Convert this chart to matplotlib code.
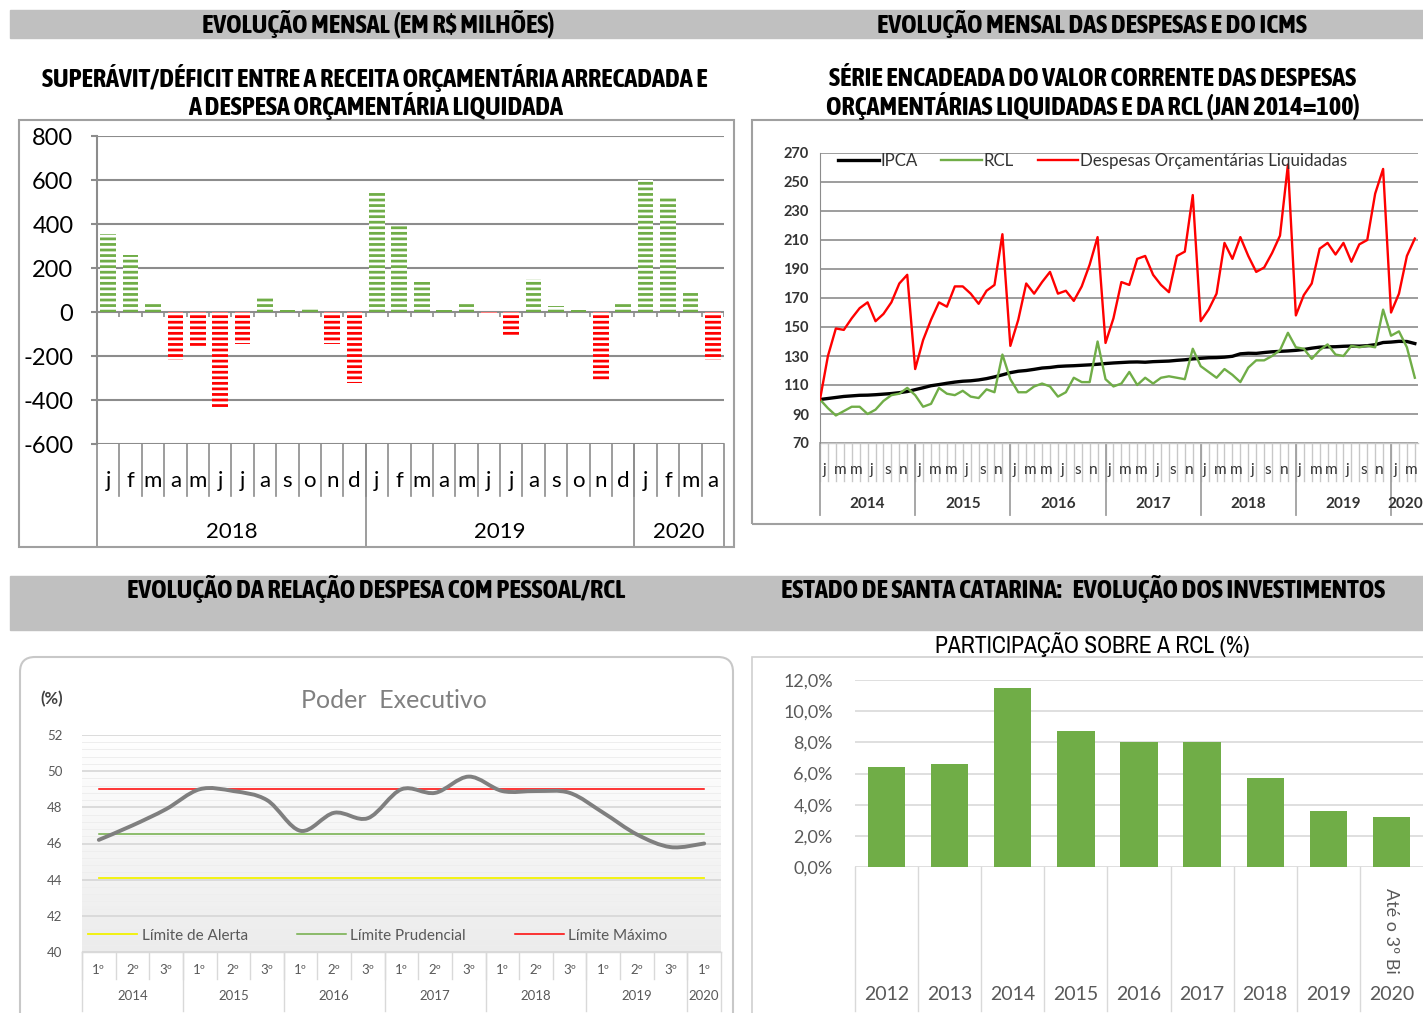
import numpy as np
import matplotlib
matplotlib.use("Agg")
import matplotlib.pyplot as plt
import matplotlib.transforms as mtransforms
from matplotlib.patches import Rectangle, FancyBboxPatch, PathPatch
from matplotlib.path import Path
from matplotlib.colors import LinearSegmentedColormap
from matplotlib import font_manager
from matplotlib.font_manager import FontProperties

W, H = 1423, 1013

# superavit/deficit mensal (R$ milhoes), jan/2018 a abr/2020
saldo_meses = ["j", "f", "m", "a", "m", "j", "j", "a", "s", "o", "n", "d"] * 2 + ["j", "f", "m", "a"]
saldo_anos = ["2018", "2019", "2020"]
saldo_valores = [355, 257, 45, -216, -163, -434, -144, 64, 9, 14, -144, -322,
                 549, 392, 136, 9, 41, -8, -109, 148, 27, 9, -310, 45,
                 598, 518, 95, -216]

# serie encadeada (jan 2014 = 100), jan/2014 a abr/2020
serie_anos = ["2014", "2015", "2016", "2017", "2018", "2019", "2020"]
serie_meses = ["j", "", "m", "", "m", "", "j", "", "s", "", "n", ""] * 6 + ["j", "", "m", ""]
ipca = [100.0, 100.7, 101.4, 102.1, 102.5, 102.9, 103.0, 103.3, 103.7, 104.1, 104.7, 105.5,
        106.8, 108.1, 109.5, 110.3, 111.2, 112.0, 112.6, 112.9, 113.5, 114.4, 115.6, 117.0,
        118.5, 119.5, 120.0, 120.8, 121.7, 122.1, 122.8, 123.1, 123.3, 123.6, 123.9, 124.3,
        124.8, 125.2, 125.5, 125.8, 125.9, 125.7, 126.1, 126.3, 126.5, 127.0, 127.4, 128.0,
        128.4, 128.8, 128.9, 129.2, 129.8, 131.5, 131.9, 131.8, 132.4, 132.9, 133.2, 133.5,
        133.9, 134.5, 135.4, 136.1, 136.3, 136.4, 136.7, 136.9, 136.8, 137.1, 137.8, 139.3,
        139.6, 140.1, 140.0, 138.6]
rcl = [100, 94, 89, 92, 95, 95, 90, 93, 99, 103, 104, 108,
       103, 95, 97, 108, 104, 103, 106, 102, 101, 107, 105, 131,
       114, 105, 105, 109, 111, 109, 102, 105, 115, 112, 112, 140,
       114, 109, 111, 119, 110, 115, 111, 115, 116, 115, 114, 135,
       123, 119, 115, 121, 117, 112, 122, 127, 127, 130, 134, 146,
       136, 135, 128, 134, 138, 131, 130, 137, 136, 137, 136, 162,
       144, 147, 136, 115]
despesas = [100, 130, 149, 148, 156, 163, 167, 154, 159, 167, 180, 186,
            121, 141, 155, 167, 164, 178, 178, 173, 166, 175, 179, 214,
            137, 155, 180, 173, 181, 188, 173, 175, 168, 178, 193, 212,
            139, 156, 181, 179, 197, 199, 186, 179, 174, 199, 202, 241,
            154, 162, 173, 208, 197, 212, 199, 188, 191, 201, 213, 262,
            158, 172, 180, 204, 208, 200, 208, 195, 207, 210, 242, 259,
            160, 173, 199, 211]

# despesa com pessoal / RCL (%), por quadrimestre
pessoal_quad = ["1º", "2º", "3º"] * 6 + ["1º"]
pessoal_anos = ["2014", "2015", "2016", "2017", "2018", "2019", "2020"]
pessoal = [46.2, 47.0, 47.9, 49.0, 48.9, 48.4, 46.7, 47.7, 47.4, 49.0,
           48.8, 49.7, 48.9, 48.9, 48.8, 47.7, 46.5, 45.8, 46.0]
limite_alerta = 44.1
limite_prudencial = 46.55
limite_maximo = 49.0

# investimentos / RCL (%)
invest_anos = ["2012", "2013", "2014", "2015", "2016", "2017", "2018", "2019", "2020"]
invest_pct = [6.4, 6.6, 11.5, 8.7, 8.0, 8.0, 5.7, 3.6, 3.2]

VERDE = "#70AD47"
VERMELHO = "#FF0000"
CINZA = "#8c8c8c"

# fonte estreita (negrito e normal) para os titulos
estreitas = [f for f in font_manager.fontManager.ttflist
             if ("Narrow" in f.name or "Condensed" in f.name) and f.style == "normal"]


def acha_fonte(pesos):
    for f in estreitas:
        if f.weight in pesos:
            return FontProperties(fname=f.fname)
    return None


FP_BOLD = acha_fonte((700, "bold")) or acha_fonte((600, 800, "semibold", "heavy")) \
    or FontProperties(family="Liberation Sans", weight="bold")
FP_NORMAL = acha_fonte((400, "normal", "regular")) or FontProperties(family="Liberation Sans")

nomes = {f.name for f in font_manager.fontManager.ttflist}
SANS = "Lato" if "Lato" in nomes else "DejaVu Sans"
plt.rcParams["font.family"] = [SANS, "DejaVu Sans"]
plt.rcParams["hatch.linewidth"] = 2.0
plt.rcParams["axes.unicode_minus"] = False

fig = plt.figure(figsize=(W / 100, H / 100), dpi=100)
renderer = fig.canvas.get_renderer()


def rect(x0, y0, x1, y1):
    return [x0 / W, 1 - y1 / H, (x1 - x0) / W, (y1 - y0) / H]


def ftxt(x, y, s, largura=None, maximo=17, **kw):
    kw.setdefault("ha", "center")
    kw.setdefault("va", "center")
    t = fig.text(x / W, 1 - y / H, s, parse_math=False, **kw)
    if largura:
        w = t.get_window_extent(renderer).width
        t.set_fontsize(min(t.get_fontsize() * largura / w, maximo))
    return t


def titulo(x, y, s, largura):
    ftxt(x, y, s, largura, maximo=19, fontproperties=FP_BOLD.copy(), fontsize=15.5)


# faixas cinza de titulo
for y0, y1 in [(10, 38), (576, 630)]:
    fig.patches.append(Rectangle((10 / W, 1 - y1 / H), 1413 / W, (y1 - y0) / H,
                                 transform=fig.transFigure, color="#c0c0c0", zorder=0))

titulo(378, 24, "EVOLUÇÃO MENSAL (EM R$ MILHÕES)", 376)
titulo(1092, 24, "EVOLUÇÃO MENSAL DAS DESPESAS E DO ICMS", 468)
titulo(375, 78, "SUPERÁVIT/DÉFICIT ENTRE A RECEITA ORÇAMENTÁRIA ARRECADADA E", 710)
titulo(376, 106, "A DESPESA ORÇAMENTÁRIA LIQUIDADA", 397)
titulo(1093, 78, "SÉRIE ENCADEADA DO VALOR CORRENTE DAS DESPESAS", 580)
titulo(1093, 106, "ORÇAMENTÁRIAS LIQUIDADAS E DA RCL (JAN 2014=100)", 559)
titulo(376, 589, "EVOLUÇÃO DA RELAÇÃO DESPESA COM PESSOAL/RCL", 550)
titulo(1083, 589, "ESTADO DE SANTA CATARINA:   EVOLUÇÃO DOS INVESTIMENTOS", 650)
ftxt(1092, 645, "PARTICIPAÇÃO SOBRE A RCL (%)", 321, fontproperties=FP_NORMAL.copy(), fontsize=15)

# molduras
fig.patches.append(Rectangle((19 / W, 1 - 547 / H), 715 / W, 427 / H, transform=fig.transFigure,
                             fill=False, edgecolor="#a0a0a0", lw=1.5))
fig.patches.append(Rectangle((752 / W, 1 - 524 / H), 680 / W, 404 / H, transform=fig.transFigure,
                             fill=False, edgecolor="#a0a0a0", lw=1.5))
fig.patches.append(Rectangle((752 / W, 1 - 1040 / H), 680 / W, 383 / H, transform=fig.transFigure,
                             fill=False, edgecolor="#d0d0d0", lw=1.2))
fig.patches.append(FancyBboxPatch((0.20, -0.30), 7.13, 3.86, boxstyle="round,pad=0,rounding_size=0.15",
                                  transform=fig.dpi_scale_trans, fill=False,
                                  edgecolor="#c8c8c8", lw=1.5))

# ---------- superavit / deficit ----------
ax1 = fig.add_axes(rect(97, 136, 724, 444))
x1 = np.arange(len(saldo_valores))
cores = [VERDE if v >= 0 else VERMELHO for v in saldo_valores]
ax1.bar(x1, saldo_valores, width=0.7, color=cores, edgecolor="white", linewidth=0,
        hatch="---", zorder=3)
ax1.set_xlim(-0.5, len(saldo_valores) - 0.5)
ax1.set_ylim(-600, 800)
ax1.set_yticks(range(-600, 801, 200))
ax1.yaxis.grid(True, color=CINZA, lw=1.5)
ax1.set_axisbelow(True)
ax1.set_xticks([])
for s in ["top", "right", "bottom"]:
    ax1.spines[s].set_visible(False)
ax1.spines["left"].set_color(CINZA)
ax1.spines["left"].set_linewidth(1.5)
ax1.tick_params(axis="y", length=4, color=CINZA, width=1.5, labelsize=17, pad=13)
ax1.vlines(np.arange(len(saldo_valores) + 1) - 0.5, -22, 0, color=CINZA, lw=1.2, zorder=2)
tr1 = mtransforms.blended_transform_factory(ax1.transData, ax1.transAxes)
for i, m in enumerate(saldo_meses):
    ax1.text(i, -0.12, m, transform=tr1, ha="center", va="center", fontsize=16)
    if i < len(saldo_meses) - 1:
        ax1.plot([i + 0.5, i + 0.5], [0, -0.17], transform=tr1, color=CINZA, lw=1.2, clip_on=False)
limites1 = [-0.5, 11.5, 23.5, len(saldo_valores) - 0.5]
for b in limites1:
    ax1.plot([b, b], [0, -0.335], transform=tr1, color=CINZA, lw=1.2, clip_on=False)
for k, ano in enumerate(saldo_anos):
    ax1.text((limites1[k] + limites1[k + 1]) / 2, -0.286, ano, transform=tr1,
             ha="center", va="center", fontsize=16)

# ---------- serie encadeada ----------
ax2 = fig.add_axes(rect(820, 153, 1418, 443))
t = np.arange(len(ipca))
ax2.plot(t, ipca, color="black", lw=2.4, label="IPCA", zorder=3)
ax2.plot(t, rcl, color=VERDE, lw=1.7, label="RCL", zorder=3)
ax2.plot(t, despesas, color=VERMELHO, lw=1.7, label="Despesas Orçamentárias Liquidadas", zorder=3)
ax2.set_xlim(0, len(ipca) - 0.6)
ax2.set_ylim(70, 270)
ax2.set_yticks(range(70, 271, 20))
ax2.yaxis.grid(True, color=CINZA, lw=1.2)
ax2.set_axisbelow(True)
ax2.set_xticks([])
for s in ["top", "right", "bottom"]:
    ax2.spines[s].set_visible(False)
ax2.spines["left"].set_color(CINZA)
ax2.tick_params(axis="y", length=0, labelsize=10.5, pad=8, labelcolor="#333333")
for lb in ax2.get_yticklabels():
    lb.set_fontweight("bold")
ax2.legend(loc="center left", bbox_to_anchor=(0.03, 0.972), ncol=3, frameon=False,
           fontsize=12.2, handlelength=2.4, handletextpad=0.1, columnspacing=1.4,
           borderpad=0, borderaxespad=0, labelcolor="#333333")
tr2 = mtransforms.blended_transform_factory(ax2.transData, ax2.transAxes)
for i, m in enumerate(serie_meses):
    ax2.plot([i, i], [0, -0.13], transform=tr2, color="#c8c8c8", lw=1.0, clip_on=False)
    if m:
        ax2.text(i + 0.5, -0.093, m, transform=tr2, ha="center", va="center",
                 fontsize=11, color="#333333")
for k, ano in enumerate(serie_anos):
    b = 12 * k
    ax2.plot([b, b], [0, -0.248], transform=tr2, color="#a0a0a0", lw=1.3, clip_on=False)
    centro = b + 6 if k < len(serie_anos) - 1 else len(ipca) - 2.2
    ax2.text(centro, -0.21, ano, transform=tr2, ha="center", va="center",
             fontsize=11, fontweight="bold", color="#333333")
ax2.plot([0, len(ipca) - 0.6], [0, 0], transform=tr2, color="#c8c8c8", lw=1.0, clip_on=False)

# ---------- despesa com pessoal / RCL ----------
ax3 = fig.add_axes(rect(82, 735, 721, 952))
n3 = len(pessoal)
grad = LinearSegmentedColormap.from_list("g", ["#ffffff", "#ececec"])
ax3.imshow(np.linspace(0, 1, 256).reshape(-1, 1), cmap=grad, aspect="auto",
           extent=(-0.5, n3 - 0.5, 40, 52), zorder=0)
ax3.set_xlim(-0.5, n3 - 0.5)
ax3.set_ylim(40, 52)
ax3.set_yticks(range(40, 53, 2))
ax3.set_yticks(np.arange(40, 52.01, 0.4), minor=True)
ax3.yaxis.grid(True, which="minor", color="#eeeeee", lw=0.7, zorder=1)
ax3.yaxis.grid(True, which="major", color="#d6d6d6", lw=1.2, zorder=1)
ax3.set_xticks([])
for s in ax3.spines.values():
    s.set_visible(False)
ax3.tick_params(axis="y", which="both", length=0, labelsize=9.5, labelcolor="#595959", pad=14)
x3 = np.arange(n3)
ax3.plot(x3, [limite_alerta] * n3, color="#f2f200", lw=1.3, zorder=2, label="Límite de Alerta")
ax3.plot(x3, [limite_prudencial] * n3, color=VERDE, lw=1.1, zorder=2, label="Límite Prudencial")
ax3.plot(x3, [limite_maximo] * n3, color=VERMELHO, lw=1.1, zorder=2, label="Límite Máximo")

# linha suavizada (Bezier tipo Catmull-Rom, como no Excel)
pts = np.column_stack([x3, pessoal])
ext = np.vstack([pts[0], pts, pts[-1]])
verts = [tuple(pts[0])]
codes = [Path.MOVETO]
for i in range(n3 - 1):
    p0, p1, p2, p3 = ext[i], ext[i + 1], ext[i + 2], ext[i + 3]
    verts += [tuple(p1 + (p2 - p0) / 6), tuple(p2 - (p3 - p1) / 6), tuple(p2)]
    codes += [Path.CURVE4] * 3
ax3.add_patch(PathPatch(Path(verts, codes), fill=False, edgecolor="#7f7f7f", lw=2.8,
                        zorder=4, capstyle="round"))
ax3.legend(loc="center left", bbox_to_anchor=(0.01, 0.075), ncol=3, frameon=False,
           fontsize=11, handlelength=3.2, handletextpad=0.3, columnspacing=3.2,
           borderpad=0, borderaxespad=0, labelcolor="#595959")
tr3 = mtransforms.blended_transform_factory(ax3.transData, ax3.transAxes)
for i, q in enumerate(pessoal_quad):
    ax3.text(i, -0.083, q, transform=tr3, ha="center", va="center", fontsize=9.5, color="#595959")
    ax3.plot([i - 0.5, i - 0.5], [0, -0.125], transform=tr3, color="#d9d9d9", lw=1.0, clip_on=False)
ax3.plot([-0.5, n3 - 0.5], [0, 0], transform=tr3, color="#d9d9d9", lw=1.0, clip_on=False)
grupos3 = [-0.5, 2.5, 5.5, 8.5, 11.5, 14.5, 17.5, n3 - 0.5]
for b in grupos3:
    ax3.plot([b, b], [0, -0.27], transform=tr3, color="#d9d9d9", lw=1.0, clip_on=False)
for k, ano in enumerate(pessoal_anos):
    ax3.text((grupos3[k] + grupos3[k + 1]) / 2, -0.203, ano, transform=tr3,
             ha="center", va="center", fontsize=9.5, color="#595959")
ftxt(52, 699, "(%)", fontsize=12, fontweight="bold", color="#404040")
ftxt(394, 700, "Poder  Executivo", fontsize=18, color="#808080")

# ---------- investimentos ----------
ax4 = fig.add_axes(rect(855, 680, 1423, 867))
x4 = np.arange(len(invest_pct))
ax4.bar(x4, invest_pct, width=0.59, color=VERDE, zorder=3)
ax4.set_xlim(-0.5, len(invest_pct) - 0.5)
ax4.set_ylim(0, 12)
ax4.set_yticks(range(0, 13, 2))
ax4.set_yticklabels([f"{v:.1f}%".replace(".", ",") for v in range(0, 13, 2)])
ax4.yaxis.grid(True, color="#d9d9d9", lw=1.2)
ax4.set_axisbelow(True)
ax4.set_xticks([])
for s in ax4.spines.values():
    s.set_visible(False)
ax4.tick_params(axis="y", length=0, labelsize=13, labelcolor="#595959", pad=16)
tr4 = mtransforms.blended_transform_factory(ax4.transData, ax4.transAxes)
for i, ano in enumerate(invest_anos):
    ax4.text(i, -0.684, ano, transform=tr4, ha="center", va="center", fontsize=14, color="#595959")
    ax4.plot([i - 0.5, i - 0.5], [0, -0.77], transform=tr4, color="#d9d9d9", lw=1.0, clip_on=False)
ax4.text(len(invest_pct) - 1, -0.34, "Até o 3º Bi", transform=tr4, rotation=270,
         ha="center", va="center", fontsize=13, color="#595959")

fig.savefig("out.png", dpi=100)
